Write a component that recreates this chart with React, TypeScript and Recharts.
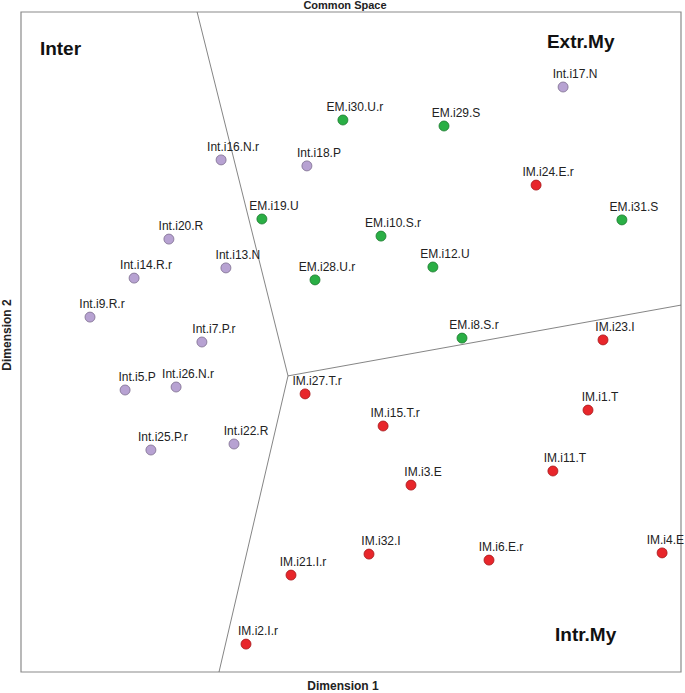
import { ScatterChart, Scatter, XAxis, YAxis, ReferenceLine, ReferenceArea, Customized } from "recharts";

// Int (purple) items
const interNames = ["Int.i17.N", "Int.i16.N.r", "Int.i18.P", "Int.i20.R", "Int.i13.N", "Int.i14.R.r", "Int.i9.R.r", "Int.i7.P.r", "Int.i5.P", "Int.i26.N.r", "Int.i25.P.r", "Int.i22.R"];
const interX = [0.707, -0.433, -0.147, -0.607, -0.417, -0.723, -0.87, -0.497, -0.753, -0.583, -0.667, -0.39];
const interY = [0.85, 0.607, 0.587, 0.343, 0.247, 0.213, 0.083, 0.0, -0.16, -0.15, -0.36, -0.34];

// EM (green) items
const extrNames = ["EM.i30.U.r", "EM.i29.S", "EM.i19.U", "EM.i10.S.r", "EM.i12.U", "EM.i28.U.r", "EM.i31.S", "EM.i8.S.r"];
const extrX = [-0.027, 0.31, -0.297, 0.1, 0.273, -0.12, 0.903, 0.37];
const extrY = [0.74, 0.72, 0.41, 0.353, 0.25, 0.207, 0.407, 0.013];

// IM (red) items
const intrNames = ["IM.i24.E.r", "IM.i23.I", "IM.i27.T.r", "IM.i15.T.r", "IM.i1.T", "IM.i11.T", "IM.i3.E", "IM.i32.I", "IM.i6.E.r", "IM.i4.E", "IM.i21.I.r", "IM.i2.I.r"];
const intrX = [0.617, 0.84, -0.153, 0.107, 0.79, 0.673, 0.2, 0.06, 0.46, 1.037, -0.2, -0.35];
const intrY = [0.523, 0.007, -0.173, -0.28, -0.227, -0.43, -0.477, -0.707, -0.727, -0.703, -0.777, -1.007];

// partition lines: centre point and the three ends
const centre = { x: -0.21, y: -0.113 };
const lineEnds = [
    { x: -0.513, y: 1.1 },
    { x: -0.44, y: -1.1 },
    { x: 1.1, y: 0.123 },
];

const regionNames = ["Inter", "Extr.My", "Intr.My"];
const regionX = [-1.037, 0.653, 0.68];
const regionY = [0.957, 0.98, -0.997];

const build = (names: string[], xs: number[], ys: number[]) =>
    names.map((name, i) => ({ name, x: xs[i], y: ys[i] }));

const interData = build(interNames, interX, interY);
const extrData = build(extrNames, extrX, extrY);
const intrData = build(intrNames, intrX, intrY);
const regionData = build(regionNames, regionX, regionY);

const FONT = "'Liberation Sans', Arial, sans-serif";
const RIGHT_EDGE = 684;

const makeShape = (fill: string, stroke: string) => (props: any) => {
    const { cx, cy, payload } = props;
    // keep labels inside the frame, like the original plot does
    const halfWidth = payload.name.length * 2.9;
    const atEdge = cx + 12 + halfWidth > RIGHT_EDGE;
    return (
        <g>
            <circle cx={cx} cy={cy} r={5} fill={fill} stroke={stroke} strokeWidth={0.8} />
            <text
                x={atEdge ? RIGHT_EDGE : cx + 12}
                y={cy - 9}
                textAnchor={atEdge ? "end" : "middle"}
                fontSize={12}
                fontFamily={FONT}
                fill="#222"
            >
                {payload.name}
            </text>
        </g>
    );
};

const regionShape = (props: any) => (
    <text x={props.cx} y={props.cy} fontSize={19} fontWeight="bold" fontFamily={FONT} fill="#111">
        {props.payload.name}
    </text>
);

const Titles = () => (
    <g fontFamily={FONT} fontWeight="bold" fill="#222">
        <text x={345} y={9} textAnchor="middle" fontSize={11}>Common Space</text>
        <text x={343} y={690} textAnchor="middle" fontSize={12}>Dimension 1</text>
        <text x={11} y={335} textAnchor="middle" fontSize={12} transform="rotate(-90 11 335)">Dimension 2</text>
    </g>
);

const App = () => {
    return (
        <div style={{ position: "absolute", left: 0, top: 0, background: "#fff" }}>
            <ScatterChart width={685} height={693} margin={{ top: 12, right: 4, bottom: 21, left: 21 }}>
                <XAxis type="number" dataKey="x" domain={[-1.1, 1.1]} hide />
                <YAxis type="number" dataKey="y" domain={[-1.1, 1.1]} hide />
                <ReferenceArea x1={-1.1} x2={1.1} y1={-1.1} y2={1.1} fill="none" stroke="#8a8a8a" strokeWidth={1.2} />
                {lineEnds.map((end, i) => (
                    <ReferenceLine key={i} segment={[centre, end]} stroke="#666" strokeWidth={0.8} />
                ))}
                <Scatter data={interData} shape={makeShape("#B7A2D2", "#7d6f8f")} isAnimationActive={false} />
                <Scatter data={extrData} shape={makeShape("#2AAF45", "#1d7a30")} isAnimationActive={false} />
                <Scatter data={intrData} shape={makeShape("#E8262B", "#a51a1d")} isAnimationActive={false} />
                <Scatter data={regionData} shape={regionShape} isAnimationActive={false} />
                <Customized component={Titles} />
            </ScatterChart>
        </div>
    );
};

export default App;
